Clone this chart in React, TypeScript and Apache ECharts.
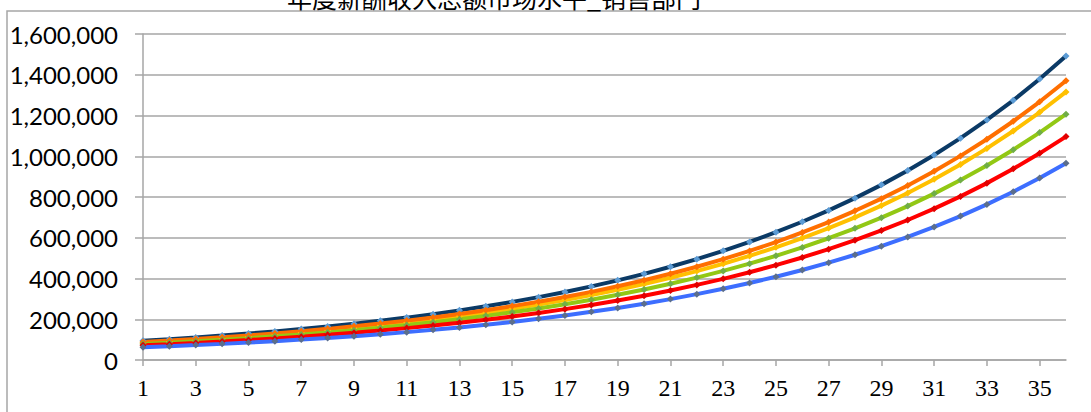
import React, { useEffect, useRef } from "react";
import * as echarts from "echarts";

const titleText = "年度薪酬收入总额市场水平_销售部门";

const categories = [
  "1", "2", "3", "4", "5", "6", "7", "8", "9", "10", "11", "12",
  "13", "14", "15", "16", "17", "18", "19", "20", "21", "22", "23", "24",
  "25", "26", "27", "28", "29", "30", "31", "32", "33", "34", "35", "36",
];

const navySeries = [
  94600, 102357, 110750, 119832, 129658, 140290, 151794, 164241, 177709, 192281, 208048, 225108,
  243567, 263539, 285149, 308531, 333831, 361205, 390824, 422872, 457548, 495067, 535662, 579586,
  627112, 678535, 734175, 794377, 859516, 929996, 1006256, 1088769, 1178048, 1274648, 1379169, 1492261,
];

const orangeSeries = [
  88300, 95496, 103279, 111696, 120799, 130644, 141291, 152806, 165260, 178729, 193295, 209049,
  226087, 244513, 264441, 285993, 309301, 334509, 361772, 391256, 423143, 457629, 494926, 535262,
  578886, 626065, 677089, 732272, 791952, 856496, 926300, 1001793, 1083439, 1171739, 1267236, 1370516,
];

const yellowSeries = [
  83400, 90239, 97638, 105645, 114308, 123681, 133823, 144797, 156670, 169517, 183417, 198458,
  214731, 232339, 251390, 272004, 294309, 318442, 344554, 372808, 403378, 436456, 472244, 510968,
  552867, 598201, 647254, 700330, 757756, 819893, 887125, 959870, 1038580, 1123744, 1215890, 1315592,
];

const greenSeries = [
  78500, 84874, 91766, 99217, 107273, 115984, 125402, 135585, 146594, 158497, 171367, 185282,
  200327, 216594, 234181, 253196, 273755, 295984, 320018, 346003, 374098, 404475, 437318, 472828,
  511222, 552733, 597615, 646141, 698608, 755335, 816668, 882981, 954679, 1032199, 1116014, 1206634,
];

const redSeries = [
  71800, 77616, 83903, 90699, 98046, 105988, 114573, 123853, 133885, 144730, 156453, 169126,
  182825, 197634, 213642, 230947, 249654, 269876, 291736, 315367, 340912, 368526, 398377, 430646,
  465528, 503236, 543998, 588062, 635695, 687186, 742848, 803019, 868064, 938377, 1014386, 1096551,
];

const blueSeries = [
  62600, 67689, 73192, 79143, 85578, 92536, 100060, 108195, 116991, 126502, 136787, 147908,
  159933, 172936, 186996, 202199, 218638, 236415, 255637, 276420, 298893, 323193, 349469, 377881,
  408603, 441823, 477743, 516583, 558583, 603996, 653101, 706198, 763612, 825694, 892823, 965410,
];

const seriesDefs = [
  { name: "90分位", data: navySeries, line: "#0B3A66", marker: "#5B9BD5" },
  { name: "75分位", data: yellowSeries, line: "#FFC000", marker: "#FFC000" },
  { name: "平均值", data: orangeSeries, line: "#FF6F00", marker: "#FF6F00" },
  { name: "50分位", data: greenSeries, line: "#92C814", marker: "#70AD47" },
  { name: "25分位", data: redSeries, line: "#FF0000", marker: "#E00000" },
  { name: "10分位", data: blueSeries, line: "#3D6EFF", marker: "#5B6E8C" },
];

export default function App() {
  const ref = useRef<HTMLDivElement>(null);

  useEffect(() => {
    if (!ref.current) return;
    const chart = echarts.init(ref.current, null, { renderer: "svg" });
    chart.setOption({
      animation: false,
      backgroundColor: "#ffffff",
      grid: { left: 143, right: 25, top: 34, bottom: 52, containLabel: false },
      graphic: [
        {
          type: "rect",
          shape: { x: 7, y: 11, width: 1300, height: 1000 },
          style: { fill: "none", stroke: "#A6A6A6", lineWidth: 1.5 },
          silent: true,
        },
        {
          type: "text",
          x: 494,
          y: 9,
          style: {
            text: titleText,
            fontFamily: "Noto Sans CJK SC",
            fontSize: 25,
            fill: "#000000",
            textAlign: "center",
            textVerticalAlign: "bottom",
          },
          silent: true,
        },
      ],
      xAxis: {
        type: "category",
        data: categories,
        boundaryGap: false,
        axisLine: { show: true, lineStyle: { color: "#A6A6A6", width: 1.5 } },
        axisTick: { show: true, interval: 1, length: 6, lineStyle: { color: "#A6A6A6", width: 1.5 } },
        axisLabel: {
          interval: 1,
          margin: 16,
          color: "#000000",
          fontFamily: "Liberation Serif",
          fontSize: 24,
        },
        splitLine: { show: false },
      },
      yAxis: {
        type: "value",
        min: 0,
        max: 1600000,
        interval: 200000,
        axisLine: { show: true, lineStyle: { color: "#A6A6A6", width: 1.5 } },
        axisTick: { show: true, length: 8, lineStyle: { color: "#A6A6A6", width: 1.5 } },
        axisLabel: {
          margin: 25,
          color: "#000000",
          fontFamily: "Lato",
          fontSize: 24,
          formatter: (v: number) => v.toLocaleString("en-US"),
        },
        splitLine: { show: true, lineStyle: { color: "#A6A6A6", width: 1.5 } },
      },
      series: seriesDefs.map((s) => ({
        name: s.name,
        type: "line",
        data: s.data,
        smooth: false,
        symbol: "diamond",
        symbolSize: 7,
        showSymbol: true,
        lineStyle: { color: s.line, width: 4 },
        itemStyle: { color: s.marker, borderWidth: 0 },
        emphasis: { disabled: true },
      })),
    });
    return () => chart.dispose();
  }, []);

  return (
    <div
      ref={ref}
      style={{ position: "absolute", left: 0, top: 0, width: 1091, height: 412 }}
    />
  );
}
